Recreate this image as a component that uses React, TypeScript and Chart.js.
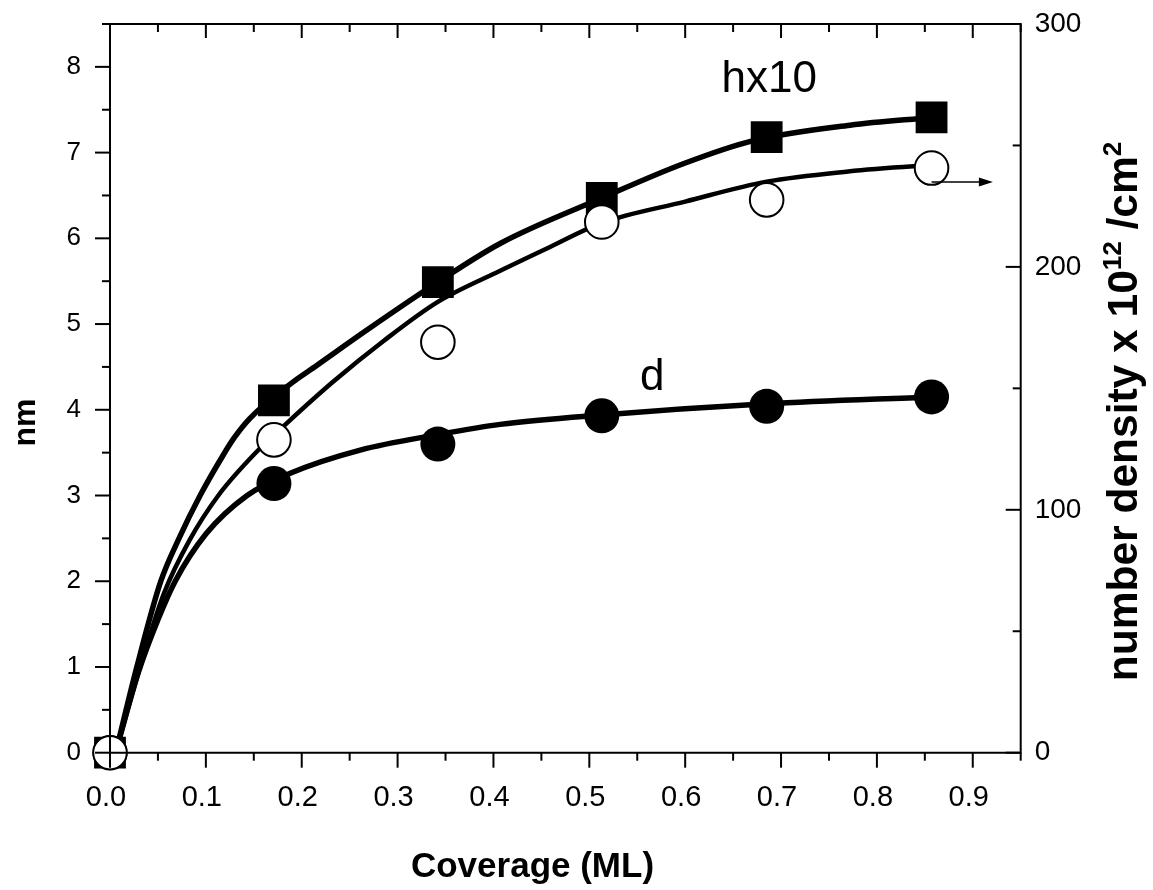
import React, { useEffect, useRef } from 'react';
import { Chart, registerables } from 'chart.js';

Chart.register(...registerables);

// ---------- data ----------
const coverage = [0, 0.171, 0.342, 0.513, 0.685, 0.857];
const hx10Values = [0, 4.11, 5.49, 6.47, 7.18, 7.41];
const dValues = [0, 3.14, 3.6, 3.93, 4.04, 4.15];
const densityValues = [0, 128.8, 169.0, 218.5, 227.6, 240.7];

// fitted (drawn) curves
const hFitX = [0.007, 0.028, 0.053, 0.072, 0.094, 0.118, 0.13, 0.146, 0.188, 0.216, 0.268, 0.342, 0.407, 0.513, 0.598, 0.671, 0.772, 0.857];
const hFitY = [0.05, 1.0, 2.0, 2.5, 3.0, 3.47, 3.68, 3.9, 4.3, 4.52, 4.93, 5.49, 5.94, 6.47, 6.87, 7.14, 7.32, 7.41];

const nFitX = [0.007, 0.03, 0.056, 0.083, 0.113, 0.153, 0.184, 0.233, 0.285, 0.342, 0.407, 0.459, 0.513, 0.6, 0.685, 0.77, 0.838, 0.857];
const nFitY = [1.8, 33.5, 65.3, 87.5, 105.9, 123.9, 135.5, 152.8, 169.4, 185.6, 198.4, 208.2, 218.1, 226.9, 235.1, 239.3, 241.4, 241.8];

const dFitX = [0.007, 0.03, 0.05, 0.068, 0.1, 0.143, 0.188, 0.261, 0.342, 0.407, 0.513, 0.685, 0.857];
const dFitY = [0.05, 0.95, 1.55, 2.0, 2.55, 3.0, 3.26, 3.53, 3.71, 3.83, 3.94, 4.07, 4.15];

// ticks
const xTickValues = [0, 0.1, 0.2, 0.3, 0.4, 0.5, 0.6, 0.7, 0.8, 0.9];
const xMinorValues = [0.05, 0.15, 0.25, 0.35, 0.45, 0.55, 0.65, 0.75, 0.85, 0.95];
const leftTickValues = [0, 1, 2, 3, 4, 5, 6, 7, 8];
const leftMinorValues = [0.5, 1.5, 2.5, 3.5, 4.5, 5.5, 6.5, 7.5, 8.5];
const rightTickValues = [0, 100, 200, 300];
const rightMinorValues = [50, 150, 250];

// annotations (data coordinates)
const curveLabels = [
  { text: 'hx10', x: 0.638, y: 7.71 },
  { text: 'd', x: 0.553, y: 4.23 },
];
const arrowStart = { x: 0.857, y: 235 };
const arrowEnd = { x: 0.921, y: 235 };

const FONT = '"Liberation Sans", Arial, Helvetica, sans-serif';

const toXY = (xs: number[], ys: number[]) => xs.map((x, i) => ({ x, y: ys[i] }));

const framePlugin = {
  id: 'framePlugin',
  afterDraw(chart: any) {
    const ctx: CanvasRenderingContext2D = chart.ctx;
    const { left, right, top, bottom } = chart.chartArea;
    const xs = chart.scales.x;
    const yl = chart.scales.y;
    const yr = chart.scales.yR;
    ctx.save();
    ctx.strokeStyle = '#000';
    ctx.fillStyle = '#000';
    ctx.lineWidth = 2;
    ctx.lineCap = 'butt';
    ctx.beginPath();
    ctx.rect(left, top, right - left, bottom - top);
    ctx.stroke();
    const line = (x1: number, y1: number, x2: number, y2: number) => {
      ctx.beginPath();
      ctx.moveTo(x1, y1);
      ctx.lineTo(x2, y2);
      ctx.stroke();
    };
    xTickValues.forEach((v) => {
      const p = xs.getPixelForValue(v);
      line(p, bottom, p, bottom + 15);
      line(p, top, p, top + 14);
    });
    xMinorValues.forEach((v) => {
      const p = xs.getPixelForValue(v);
      line(p, bottom, p, bottom + 8);
      line(p, top, p, top + 8);
    });
    leftTickValues.forEach((v) => {
      const p = yl.getPixelForValue(v);
      line(left - 15, p, left, p);
    });
    leftMinorValues.forEach((v) => {
      const p = yl.getPixelForValue(v);
      line(left - 8, p, left, p);
    });
    rightTickValues.forEach((v) => {
      const p = yr.getPixelForValue(v);
      line(right - 15, p, right, p);
    });
    rightMinorValues.forEach((v) => {
      const p = yr.getPixelForValue(v);
      line(right - 8, p, right, p);
    });

    // curve labels
    ctx.font = `44px ${FONT}`;
    ctx.textAlign = 'left';
    ctx.textBaseline = 'alphabetic';
    curveLabels.forEach((l) => {
      ctx.fillText(l.text, xs.getPixelForValue(l.x), yl.getPixelForValue(l.y));
    });

    // arrow
    const ax1 = xs.getPixelForValue(arrowStart.x);
    const ay = yr.getPixelForValue(arrowStart.y);
    const ax2 = xs.getPixelForValue(arrowEnd.x);
    ctx.lineWidth = 1.5;
    line(ax1, ay, ax2 - 10, ay);
    ctx.beginPath();
    ctx.moveTo(ax2, ay);
    ctx.lineTo(ax2 - 14, ay - 4.5);
    ctx.lineTo(ax2 - 14, ay + 4.5);
    ctx.closePath();
    ctx.fill();

    // axis titles
    ctx.font = `bold 35px ${FONT}`;
    ctx.textAlign = 'center';
    ctx.textBaseline = 'alphabetic';
    ctx.fillText('Coverage (ML)', 532.5, 877);

    ctx.save();
    ctx.translate(35, 422.5);
    ctx.rotate(-Math.PI / 2);
    ctx.font = `bold 32px ${FONT}`;
    ctx.fillText('nm', 0, 0);
    ctx.restore();

    const size = 42.5;
    const parts = [
      { t: 'number density x 10', sup: false },
      { t: '12', sup: true },
      { t: ' /cm', sup: false },
      { t: '2', sup: true },
    ];
    const fontFor = (sup: boolean) => `bold ${sup ? Math.round(size * 0.62) : size}px ${FONT}`;
    let total = 0;
    parts.forEach((p) => {
      ctx.font = fontFor(p.sup);
      total += ctx.measureText(p.t).width;
    });
    ctx.save();
    ctx.translate(1137, 411.5 + total / 2);
    ctx.rotate(-Math.PI / 2);
    ctx.textAlign = 'left';
    let cx = 0;
    parts.forEach((p) => {
      ctx.font = fontFor(p.sup);
      ctx.fillText(p.t, cx, p.sup ? -size * 0.38 : 0);
      cx += ctx.measureText(p.t).width;
    });
    ctx.restore();

    ctx.restore();
  },
};

export default function App() {
  const ref = useRef<HTMLCanvasElement | null>(null);

  useEffect(() => {
    if (!ref.current) return;
    const fitStyle = {
      showLine: true,
      borderColor: '#000',
      borderWidth: 5.5,
      pointRadius: 0,
      fill: false,
      cubicInterpolationMode: 'monotone' as const,
      clip: false as const,
    };
    const zeroPad = (s: any) => {
      s.paddingTop = 0;
      s.paddingBottom = 0;
      s.paddingLeft = 0;
      s.paddingRight = 0;
    };
    const chart = new Chart(ref.current, {
      type: 'scatter',
      data: {
        datasets: [
          {
            label: 'number density',
            data: toXY(coverage, densityValues),
            yAxisID: 'yR',
            pointStyle: 'circle',
            pointRadius: 16.8,
            pointBackgroundColor: '#fff',
            pointBorderColor: '#000',
            pointBorderWidth: 2,
            showLine: false,
            clip: false,
          } as any,
          {
            label: 'd',
            data: toXY(coverage, dValues),
            yAxisID: 'y',
            pointStyle: 'circle',
            pointRadius: 17.5,
            pointBackgroundColor: '#000',
            pointBorderColor: '#000',
            pointBorderWidth: 0,
            showLine: false,
            clip: false,
          } as any,
          {
            label: 'hx10',
            data: toXY(coverage, hx10Values),
            yAxisID: 'y',
            pointStyle: 'rect',
            pointRadius: 22.5,
            pointBackgroundColor: '#000',
            pointBorderColor: '#000',
            pointBorderWidth: 0,
            showLine: false,
            clip: false,
          } as any,
          { label: 'h fit', data: toXY(hFitX, hFitY), yAxisID: 'y', ...fitStyle } as any,
          { label: 'density fit', data: toXY(nFitX, nFitY), yAxisID: 'yR', ...fitStyle, borderWidth: 4.5 } as any,
          { label: 'd fit', data: toXY(dFitX, dFitY), yAxisID: 'y', ...fitStyle } as any,
        ],
      },
      options: {
        animation: false,
        responsive: false,
        events: [],
        devicePixelRatio: 1,
        layout: { padding: { top: 24, left: 0, right: 0, bottom: 0 } },
        plugins: {
          legend: { display: false },
          tooltip: { enabled: false },
          title: { display: false },
        },
        scales: {
          x: {
            type: 'linear',
            position: 'bottom',
            min: 0,
            max: 0.95,
            grid: { display: false, drawTicks: false },
            border: { display: false },
            ticks: {
              color: '#000',
              font: { family: FONT, size: 29 },
              padding: 28,
              maxRotation: 0,
              autoSkip: false,
              callback: (v: any) => Number(v).toFixed(1) + ' ',
            },
            afterBuildTicks: (s: any) => {
              s.ticks = xTickValues.map((v) => ({ value: v }));
            },
            afterFit: (s: any) => {
              s.height = 890 - 752.7;
              zeroPad(s);
            },
          },
          y: {
            type: 'linear',
            position: 'left',
            min: 0,
            max: 8.5,
            grid: { display: false, drawTicks: false },
            border: { display: false },
            ticks: {
              color: '#000',
              font: { family: FONT, size: 26 },
              padding: 29,
              autoSkip: false,
              callback: (v: any) => String(v),
            },
            afterBuildTicks: (s: any) => {
              s.ticks = leftTickValues.map((v) => ({ value: v }));
            },
            afterFit: (s: any) => {
              s.width = 110;
              zeroPad(s);
            },
          },
          yR: {
            type: 'linear',
            position: 'right',
            min: 0,
            max: 300,
            grid: { display: false, drawTicks: false },
            border: { display: false },
            ticks: {
              color: '#000',
              font: { family: FONT, size: 28 },
              padding: 14,
              autoSkip: false,
              callback: (v: any) => String(v),
            },
            afterBuildTicks: (s: any) => {
              s.ticks = rightTickValues.map((v) => ({ value: v }));
            },
            afterFit: (s: any) => {
              s.width = 1153 - 1020.7;
              zeroPad(s);
            },
          },
        },
      },
      plugins: [framePlugin],
    });
    return () => chart.destroy();
  }, []);

  return (
    <div style={{ position: 'absolute', left: 0, top: 0, width: 1153, height: 890, background: '#fff' }}>
      <canvas ref={ref} width={1153} height={890} style={{ display: 'block', width: 1153, height: 890 }} />
    </div>
  );
}
